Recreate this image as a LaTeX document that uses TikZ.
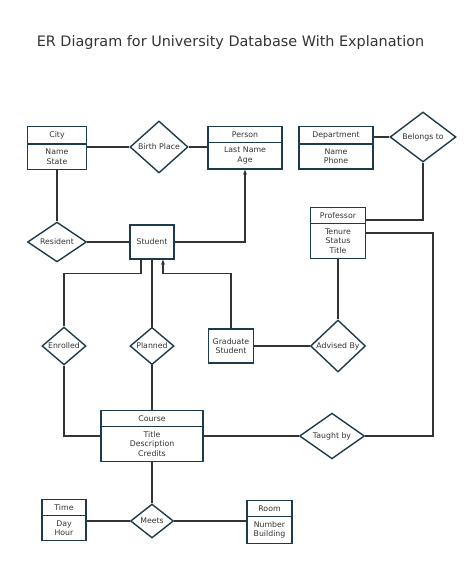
\documentclass[tikz,border=0pt]{standalone}
\usepackage{fontspec}
\setmainfont{DejaVu Sans}
\usetikzlibrary{shapes.geometric,shapes.multipart,calc,arrows.meta}

\definecolor{boxline}{HTML}{1E3B4C}
\definecolor{linkline}{HTML}{333333}
\definecolor{txt}{HTML}{333333}

\tikzset{
    entity/.style={rectangle split, rectangle split parts=2, draw=boxline,
        line width=1.4pt, text width=#1, align=center, inner xsep=0pt,
        inner ysep=4.2pt, anchor=north, text=txt,
        font=\fontsize{7.8}{9.6}\selectfont},
    single/.style={rectangle, draw=boxline, line width=1.4pt, align=center,
        minimum width=44pt, minimum height=34pt, inner sep=0pt, text=txt,
        font=\fontsize{7.8}{9.6}\selectfont},
    relation/.style={diamond, draw=boxline, line width=1.4pt, inner sep=0pt,
        minimum width=#1, text=txt, font=\fontsize{7.8}{9.6}\selectfont},
    link/.style={draw=linkline, line width=1.3pt},
}

\begin{document}
\begin{tikzpicture}[x=1pt, y=-1pt]
    \useasboundingbox (0,0) rectangle (474,561);

    % Title
    \node[text=txt, font=\fontsize{14.4}{17}\selectfont] (title) at (230.5,43)
        {ER Diagram for University Database With Explanation};

    % Define entities
    \node[entity=59pt] (city) at (57,126) {City \nodepart{two} Name\\State};
    \node[entity=74pt] (person) at (245,126) {Person \nodepart{two} Last Name\\Age};
    \node[entity=74pt] (dept) at (336,126) {Department \nodepart{two} Name\\Phone};
    \node[entity=55pt] (prof) at (338,207) {Professor \nodepart{two} Tenure\\Status\\Title};
    \node[entity=102pt] (course) at (152,410) {Course \nodepart{two} Title\\Description\\Credits};
    \node[entity=44pt] (time) at (64,499) {Time \nodepart{two} Day\\Hour};
    \node[entity=45pt] (room) at (269.5,500) {Room \nodepart{two} Number\\Building};
    \node[single] (student) at (152,242) {Student};
    \node[single, minimum width=45pt] (grad) at (231,346) {Graduate\\Student};

    % Define relations
    \node[relation=58pt, minimum height=52pt] (birth) at (159,147) {Birth Place};
    \node[relation=59pt, minimum height=33pt] (resident) at (57,242) {Resident};
    \node[relation=66pt, minimum height=50pt] (belongs) at (423,137) {Belongs to};
    \node[relation=44pt, minimum height=34pt] (enrolled) at (64,346) {Enrolled};
    \node[relation=44pt, minimum height=34pt] (planned) at (152,346) {Planned};
    \node[relation=55pt, minimum height=52pt] (advised) at (338,346) {Advised By};
    \node[relation=65pt, minimum height=35pt] (taught) at (332,436) {Taught by};
    \node[relation=43pt, minimum height=34pt] (meets) at (152,521) {Meets};

    % Helper points
    \coordinate (rightcorner) at (433,436);
    \coordinate (gradturn) at ($(student.south)+(11,14)$);
    \coordinate (enrturn) at ($(student.south)+(-11,14)$);

    % Draw connectors
    \draw[link] (city.east |- birth.west) -- (birth.west);
    \draw[link] (birth.east) -- (person.west |- birth.east);
    \draw[link] (city.south) -- (resident.north);
    \draw[link] (resident.east) -- (student.west);
    \draw[link, -{Stealth[length=5pt,width=4pt]}] (student.east) -| (person.south);
    \draw[link] (dept.east |- belongs.west) -- (belongs.west);
    \draw[link] (belongs.south) |- ([yshift=-13pt]prof.north east);
    \draw[link] ([yshift=-26pt]prof.north east) -| (rightcorner) -- (taught.east);
    \draw[link] (prof.south) -- (advised.north);
    \draw[link] (grad.east) -- (advised.west);
    \draw[link, -{Stealth[length=5pt,width=4pt]}] (grad.north) |- (gradturn)
        -- ([xshift=11pt]student.south);
    \draw[link] ([xshift=-11pt]student.south) -- (enrturn) -| (enrolled.north);
    \draw[link] (enrolled.south) |- (course.west |- taught);
    \draw[link] (student.south) -- (planned.north);
    \draw[link] (planned.south) -- (course.north);
    \draw[link] (course.east |- taught) -- (taught.west);
    \draw[link] (course.south) -- (meets.north);
    \draw[link] (time.east |- meets) -- (meets.west);
    \draw[link] (meets.east) -- (room.west |- meets);
\end{tikzpicture}
\end{document}
